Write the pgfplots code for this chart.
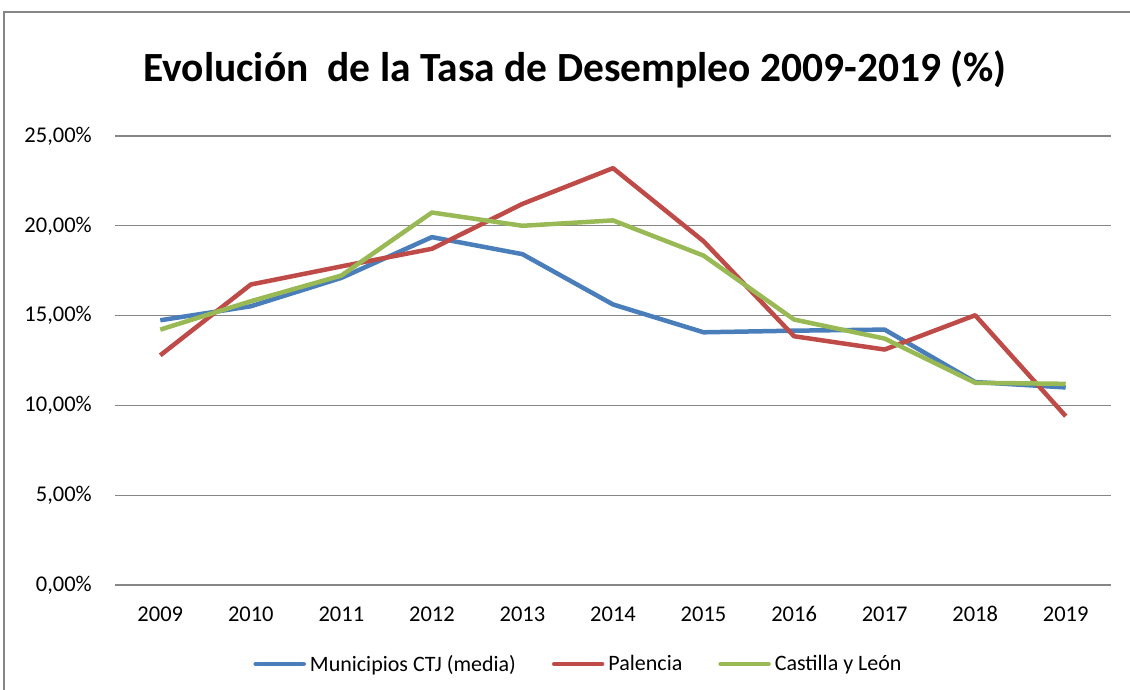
\documentclass[border=0pt]{standalone}
\usepackage{fontspec}
\setmainfont{Carlito}
\usepackage{pgfplots}
\pgfplotsset{compat=1.18}
\definecolor{cblue}{HTML}{4A7EBB}
\definecolor{cred}{HTML}{BE4B48}
\definecolor{cgreen}{HTML}{98B954}
\definecolor{cgrid}{HTML}{868686}
\begin{document}
\begin{tikzpicture}
\useasboundingbox (0pt,0pt) rectangle (1130pt,690pt);
\draw[cgrid, line width=1.5pt] (4pt,0pt) -- (4pt,678pt) -- (1130pt,678pt);
\node[anchor=base, inner sep=0pt, font=\fontsize{41.5}{48}\selectfont\bfseries] at (575pt,608pt) {Evolución\ \ de la Tasa de Desempleo 2009-2019 (\%)};
\begin{axis}[
  at={(115pt,105pt)}, anchor=south west,
  width=996pt, height=449pt, scale only axis,
  xmin=-0.5, xmax=10.5, ymin=0, ymax=25,
  xtick={0,...,10},
  xticklabels={2009,2010,2011,2012,2013,2014,2015,2016,2017,2018,2019},
  ytick={0,5,10,15,20,25},
  yticklabels={{0,00\%},{5,00\%},{10,00\%},{15,00\%},{20,00\%},{25,00\%}},
  axis line style={draw=none},
  major tick length=0pt,
  ymajorgrids, grid style={cgrid, line width=1.2pt},
  tick label style={font=\fontsize{22.5}{27}\selectfont, inner sep=0pt},
  yticklabel style={anchor=east, xshift=-23pt},
  xticklabel style={anchor=base, yshift=-37pt},
  legend columns=-1,
  legend style={at={(0.4644,-0.176)}, anchor=center, draw=none, fill=none,
    font=\fontsize{22}{26}\selectfont,
    nodes={inner sep=0pt},
    /tikz/every even column/.append style={column sep=36pt},
    /tikz/every odd column/.append style={column sep=4pt}},
  legend image code/.code={\draw[#1, line width=4.5pt, line cap=round] (0pt,0pt) -- (48pt,0pt);},
  every axis plot/.append style={line width=4.5pt, line join=round, no marks},
]
\addplot[cblue] coordinates {(0,14.74) (1,15.52) (2,17.10) (3,19.37) (4,18.42) (5,15.62) (6,14.07) (7,14.16) (8,14.22) (9,11.30) (10,11.00)};
\addlegendentry{Municipios CTJ (media)}
\addplot[cred] coordinates {(0,12.79) (1,16.73) (2,17.74) (3,18.72) (4,21.22) (5,23.21) (6,19.14) (7,13.85) (8,13.11) (9,15.02) (10,9.40)};
\addlegendentry{Palencia}
\addplot[cgreen] coordinates {(0,14.22) (1,15.80) (2,17.23) (3,20.74) (4,20.00) (5,20.30) (6,18.34) (7,14.78) (8,13.72) (9,11.26) (10,11.20)};
\addlegendentry{Castilla y León}
\end{axis}
\end{tikzpicture}
\end{document}
